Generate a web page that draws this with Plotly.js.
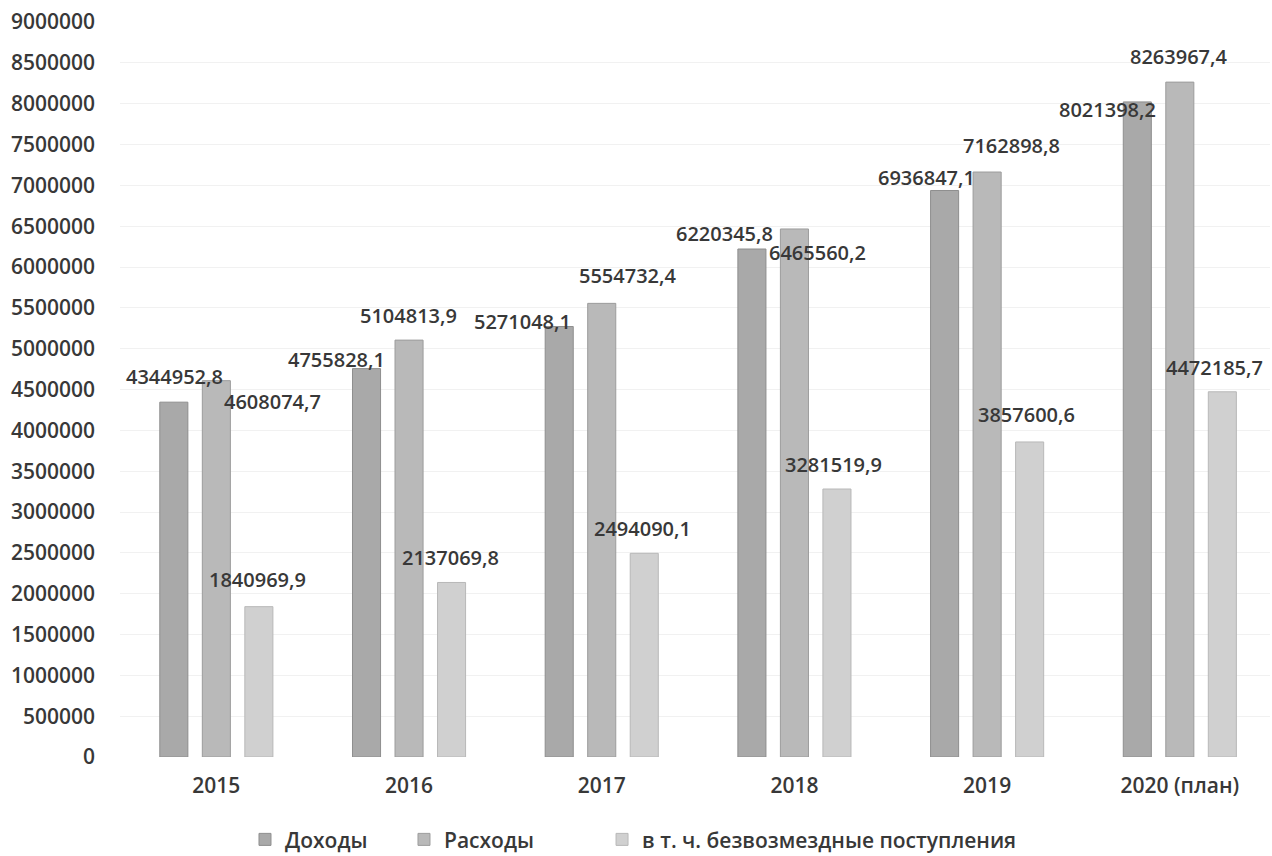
<!DOCTYPE html>
<html>
<head>
<meta charset="utf-8">
<script src="https://cdn.plot.ly/plotly-3.0.1.min.js"></script>
<style>html,body{margin:0;padding:0;background:#fff;}#chart{width:1272px;height:856px;}</style>
</head>
<body>
<div id="chart"></div>
<script>
// ---- data ----
const categories = ["2015", "2016", "2017", "2018", "2019", "2020 (план)"];
const seriesNames = ["Доходы", "Расходы", "в т. ч. безвозмездные поступления"];
const incomeValues = [4344952.8, 4755828.1, 5271048.1, 6220345.8, 6936847.1, 8021398.2];
const expenseValues = [4608074.7, 5104813.9, 5554732.4, 6465560.2, 7162898.8, 8263967.4];
const grantValues = [1840969.9, 2137069.8, 2494090.1, 3281519.9, 3857600.6, 4472185.7];
const yTickValues = [0, 500000, 1000000, 1500000, 2000000, 2500000, 3000000, 3500000, 4000000, 4500000, 5000000, 5500000, 6000000, 6500000, 7000000, 7500000, 8000000, 8500000, 9000000];

// ---- styles / label placement (pixels) ----
const colors = ["#a9a9a9", "#b9b9b9", "#d0d0d0"];
const edgeColors = ["#8e8e8e", "#9c9c9c", "#b8b8b8"];
const seriesShift = [-42.5, 0, 42.5];
const labelDx = [
  [1, -30, -37, -27, -18, -30],
  [56, -1, 26, 23, 24, -1],
  [-1, -1, -2, -3, -3, -8]
];
const labelDy = [
  [26, 9, 5, 16, 13, -8],
  [-21, 25, 28, -24, 27, 26],
  [27, 25, 25, 25, 27, 24]
];
const legendOf = ["legend", "legend", "legend2"];

const FONT = "Open Sans, Noto Sans, sans-serif";
const TXT = "#383838";
const WEIGHT = 600;
const FS = 21;

const allSeries = [incomeValues, expenseValues, grantValues];
const fmt = v => v.toFixed(1).replace(".", ",");

const traces = allSeries.map((vals, k) => ({
  type: "bar",
  name: seriesNames[k],
  x: categories,
  y: vals,
  legend: legendOf[k],
  marker: {color: colors[k], line: {color: edgeColors[k], width: 1}},
  hoverinfo: "skip"
}));

const annotations = [];
allSeries.forEach((vals, k) => {
  vals.forEach((v, i) => {
    annotations.push({
      x: i, y: v, xref: "x", yref: "y",
      text: fmt(v), showarrow: false,
      xanchor: "center", yanchor: "middle",
      xshift: seriesShift[k] + labelDx[k][i],
      yshift: labelDy[k][i],
      font: {family: FONT, size: 20, color: TXT, weight: WEIGHT}
    });
  });
});

const legendFont = {family: FONT, size: FS, color: TXT, weight: WEIGHT};

const layout = {
  width: 1272, height: 856,
  margin: {l: 120, r: 2, t: 22, b: 99},
  paper_bgcolor: "#ffffff", plot_bgcolor: "#ffffff",
  barmode: "group", bargap: 0.338, bargroupgap: 0.34,
  font: {family: FONT, size: FS, color: TXT, weight: WEIGHT},
  xaxis: {
    type: "category", range: [-0.5, 5.468],
    showgrid: false, zeroline: false, showline: false, ticks: "",
    ticklabelstandoff: 14,
    tickfont: {family: FONT, size: FS, color: TXT, weight: WEIGHT}
  },
  yaxis: {
    range: [0, 9000000], tickmode: "array", tickvals: yTickValues,
    ticktext: yTickValues.map(v => String(v)),
    showgrid: true, gridcolor: "#f1f1f1", gridwidth: 1,
    zeroline: false, showline: false, ticks: "",
    ticklabelstandoff: 24,
    tickfont: {family: FONT, size: FS, color: TXT, weight: WEIGHT}
  },
  showlegend: true,
  legend: {
    orientation: "h", xref: "container", yref: "container",
    x: 0.1926, xanchor: "left", y: 0.019, yanchor: "middle",
    font: legendFont, itemwidth: 30, entrywidth: 114, entrywidthmode: "pixels"
  },
  legend2: {
    orientation: "h", xref: "container", yref: "container",
    x: 0.4733, xanchor: "left", y: 0.019, yanchor: "middle",
    font: legendFont, itemwidth: 30
  },
  annotations: annotations
};

Plotly.newPlot("chart", traces, layout, {staticPlot: true, displayModeBar: false});
</script>
</body>
</html>
